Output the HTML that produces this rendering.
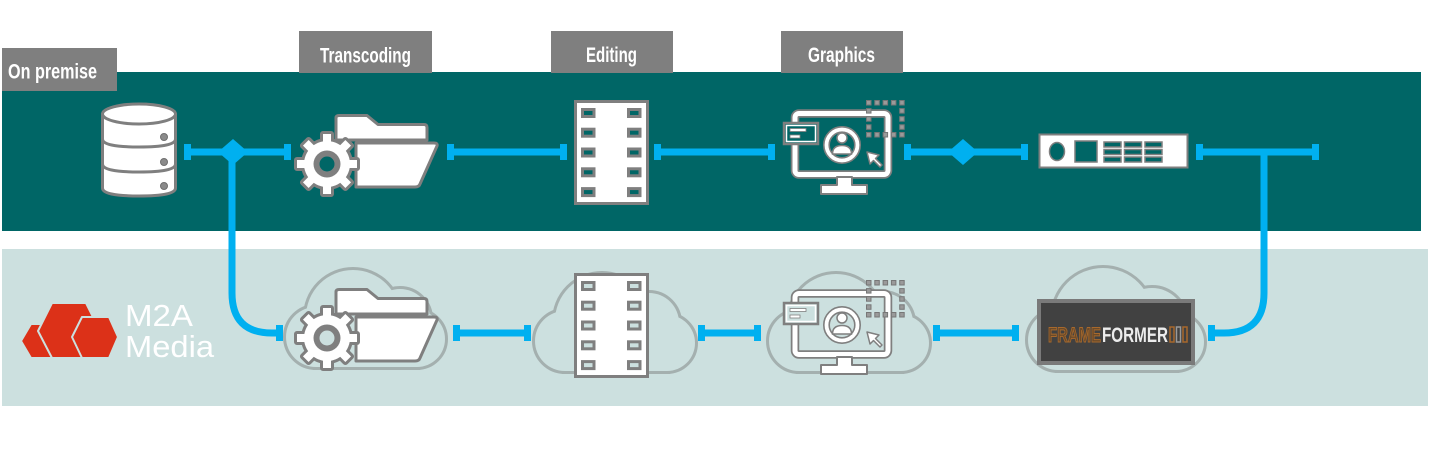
<!DOCTYPE html>
<html><head><meta charset="utf-8"><style>
html,body{margin:0;padding:0;background:#fff;}
svg{display:block;}
text{font-family:"Liberation Sans",sans-serif;}
</style></head><body>
<svg width="1430" height="456" viewBox="0 0 1430 456" xmlns="http://www.w3.org/2000/svg">
<defs>
  <g id="gf">
    <path d="M336,140 V118 Q336,115.5 339,115.5 H367 L378,124.5 H424 Q427,124.5 427,127.5 V140 Z" fill="#fff" stroke="#7f7f7f" stroke-width="3" stroke-linejoin="round"/>
    <path d="M356,143 H434 Q438,143 437,146 L420,184 Q419,187 415,187 H356 Z" fill="#fff" stroke="#7f7f7f" stroke-width="3" stroke-linejoin="round"/>
    <g fill="#7f7f7f" stroke="#7f7f7f" stroke-width="6" stroke-linejoin="round">
      <circle cx="327" cy="164" r="23"/>
      <rect x="323" y="134" width="8" height="12"/>
      <rect x="323" y="134" width="8" height="12" transform="rotate(45 327 164)"/>
      <rect x="323" y="134" width="8" height="12" transform="rotate(90 327 164)"/>
      <rect x="323" y="134" width="8" height="12" transform="rotate(135 327 164)"/>
      <rect x="323" y="134" width="8" height="12" transform="rotate(180 327 164)"/>
      <rect x="323" y="134" width="8" height="12" transform="rotate(225 327 164)"/>
      <rect x="323" y="134" width="8" height="12" transform="rotate(270 327 164)"/>
      <rect x="323" y="134" width="8" height="12" transform="rotate(315 327 164)"/>
    </g>
    <g fill="#fff">
      <circle cx="327" cy="164" r="23"/>
      <rect x="323" y="134" width="8" height="12"/>
      <rect x="323" y="134" width="8" height="12" transform="rotate(45 327 164)"/>
      <rect x="323" y="134" width="8" height="12" transform="rotate(90 327 164)"/>
      <rect x="323" y="134" width="8" height="12" transform="rotate(135 327 164)"/>
      <rect x="323" y="134" width="8" height="12" transform="rotate(180 327 164)"/>
      <rect x="323" y="134" width="8" height="12" transform="rotate(225 327 164)"/>
      <rect x="323" y="134" width="8" height="12" transform="rotate(270 327 164)"/>
      <rect x="323" y="134" width="8" height="12" transform="rotate(315 327 164)"/>
    </g>
    <circle cx="327" cy="164" r="13.5" fill="#7f7f7f"/>
    <circle cx="327" cy="164" r="7.5"/>
  </g>
  <g id="film">
    <rect x="575.5" y="101.5" width="72" height="102" fill="#fff" stroke="#7f7f7f" stroke-width="3"/>
    <g stroke="#7f7f7f" stroke-width="3">
      <rect x="582.5" y="109.5" width="11.5" height="7"/><rect x="628.5" y="109.5" width="11.5" height="7"/>
      <rect x="582.5" y="129.2" width="11.5" height="7"/><rect x="628.5" y="129.2" width="11.5" height="7"/>
      <rect x="582.5" y="149" width="11.5" height="7"/><rect x="628.5" y="149" width="11.5" height="7"/>
      <rect x="582.5" y="168.8" width="11.5" height="7"/><rect x="628.5" y="168.8" width="11.5" height="7"/>
      <rect x="582.5" y="188.6" width="11.5" height="7"/><rect x="628.5" y="188.6" width="11.5" height="7"/>
    </g>
  </g>
  <g id="mon">
    <rect x="795" y="113.5" width="93" height="61" rx="4" fill="none" stroke="#7f7f7f" stroke-width="8.5"/>
    <rect x="795" y="113.5" width="93" height="61" rx="4" fill="none" stroke="#fff" stroke-width="5"/>
    <path d="M837,177 V185 H821 V194 H867 V185 H852 V177 Z" fill="#fff" stroke="#7f7f7f" stroke-width="2" stroke-linejoin="round"/>
    <rect x="784" y="123" width="34" height="21" stroke="#7f7f7f" stroke-width="2.5"/>
    <rect x="786.5" y="125.5" width="29" height="16" fill="none" stroke="#fff" stroke-width="1.5"/>
    <rect x="790" y="128.5" width="16" height="3" fill="#fff" stroke="#7f7f7f" stroke-width="0.8"/>
    <rect x="790" y="135" width="10" height="3" fill="#fff" stroke="#7f7f7f" stroke-width="0.8"/>
    <circle cx="842" cy="145" r="15.5" fill="none" stroke="#7f7f7f" stroke-width="7"/>
    <circle cx="842" cy="145" r="15.5" fill="none" stroke="#fff" stroke-width="3.8"/>
    <circle cx="842" cy="138" r="5" fill="#fff" stroke="#7f7f7f" stroke-width="1.5"/>
    <path d="M832.5,154 Q832.5,145.5 842,145.5 Q851.5,145.5 851.5,154 Z" fill="#fff" stroke="#7f7f7f" stroke-width="1.5"/>
    <polygon points="867,152 879,155 875.5,158.5 882,165 880,167 873.5,160.5 870,164" fill="#fff" stroke="#7f7f7f" stroke-width="1.5" stroke-linejoin="round"/>
    <g fill="#9a9a9a" stroke="#777" stroke-width="1">
      <rect x="866.5" y="100.5" width="4.5" height="4.5"/><rect x="874.8" y="100.5" width="4.5" height="4.5"/><rect x="883.1" y="100.5" width="4.5" height="4.5"/><rect x="891.4" y="100.5" width="4.5" height="4.5"/><rect x="899.7" y="100.5" width="4.5" height="4.5"/>
      <rect x="866.5" y="108.6" width="4.5" height="4.5"/><rect x="899.7" y="108.6" width="4.5" height="4.5"/>
      <rect x="866.5" y="116.7" width="4.5" height="4.5"/><rect x="899.7" y="116.7" width="4.5" height="4.5"/>
      <rect x="866.5" y="124.8" width="4.5" height="4.5"/><rect x="899.7" y="124.8" width="4.5" height="4.5"/>
      <rect x="866.5" y="132.5" width="4.5" height="4.5"/><rect x="874.8" y="132.5" width="4.5" height="4.5"/><rect x="883.1" y="132.5" width="4.5" height="4.5"/><rect x="891.4" y="132.5" width="4.5" height="4.5"/><rect x="899.7" y="132.5" width="4.5" height="4.5"/>
    </g>
  </g>
</defs>

<!-- bands -->
<rect x="2" y="72" width="1419" height="159" fill="#006666"/>
<rect x="2" y="249" width="1426" height="157" fill="#cce0df"/>

<!-- labels -->
<rect x="2" y="48" width="115" height="43" fill="#7f7f7f"/>
<text x="8" y="78.5" font-size="21" font-weight="bold" fill="#fff" textLength="89" lengthAdjust="spacingAndGlyphs">On premise</text>
<rect x="299" y="31" width="133" height="42" fill="#7f7f7f"/>
<text x="320" y="62.5" font-size="21" font-weight="bold" fill="#fff" textLength="91" lengthAdjust="spacingAndGlyphs">Transcoding</text>
<rect x="551" y="31" width="122" height="42" fill="#7f7f7f"/>
<text x="586" y="62" font-size="21" font-weight="bold" fill="#fff" textLength="51" lengthAdjust="spacingAndGlyphs">Editing</text>
<rect x="781" y="31" width="122" height="42" fill="#7f7f7f"/>
<text x="808" y="62" font-size="21" font-weight="bold" fill="#fff" textLength="67" lengthAdjust="spacingAndGlyphs">Graphics</text>

<!-- clouds -->
<g fill="#a4b0af" stroke="#a4b0af" stroke-width="6">
  <circle cx="316" cy="337" r="30"/><circle cx="353" cy="317" r="47"/><circle cx="400" cy="319" r="30"/><circle cx="417" cy="339" r="28"/><rect x="316" y="327" width="101" height="40"/>
  <circle cx="565" cy="341" r="30"/><circle cx="602" cy="321" r="47"/><circle cx="649" cy="323" r="30"/><circle cx="667" cy="343" r="28"/><rect x="565" y="331" width="102" height="40"/>
  <circle cx="799" cy="341" r="30"/><circle cx="836" cy="321" r="47"/><circle cx="883" cy="323" r="30"/><circle cx="901" cy="343" r="28"/><rect x="799" y="331" width="102" height="40"/>
  <circle cx="1058" cy="340" r="30"/><circle cx="1103" cy="318" r="50"/><circle cx="1152" cy="322" r="34"/><circle cx="1176" cy="342" r="28"/><rect x="1058" y="330" width="118" height="40"/>
</g>
<g fill="#cce0df">
  <circle cx="316" cy="337" r="30"/><circle cx="353" cy="317" r="47"/><circle cx="400" cy="319" r="30"/><circle cx="417" cy="339" r="28"/><rect x="316" y="327" width="101" height="40"/>
  <circle cx="565" cy="341" r="30"/><circle cx="602" cy="321" r="47"/><circle cx="649" cy="323" r="30"/><circle cx="667" cy="343" r="28"/><rect x="565" y="331" width="102" height="40"/>
  <circle cx="799" cy="341" r="30"/><circle cx="836" cy="321" r="47"/><circle cx="883" cy="323" r="30"/><circle cx="901" cy="343" r="28"/><rect x="799" y="331" width="102" height="40"/>
  <circle cx="1058" cy="340" r="30"/><circle cx="1103" cy="318" r="50"/><circle cx="1152" cy="322" r="34"/><circle cx="1176" cy="342" r="28"/><rect x="1058" y="330" width="118" height="40"/>
</g>

<!-- connectors -->
<g stroke="#00b0f0" stroke-width="7" fill="none">
  <path d="M187,152 H288"/>
  <path d="M450,152 H564"/>
  <path d="M657,152 H772"/>
  <path d="M907,152 H1025"/>
  <path d="M1199,152 H1316"/>
  <path d="M232,152 V293 Q232,333 272,333 H280"/>
  <path d="M1264,152 V293 Q1264,333 1224,333 H1211"/>
  <path d="M456,333 H528"/>
  <path d="M701,333 H758"/>
  <path d="M936,333 H1016"/>
</g>
<g fill="#00b0f0">
  <rect x="184" y="144" width="7" height="16"/><rect x="284" y="144" width="7" height="16"/>
  <rect x="447" y="144" width="7" height="16"/><rect x="560" y="144" width="7" height="16"/>
  <rect x="654" y="144" width="7" height="16"/><rect x="768" y="144" width="7" height="16"/>
  <rect x="904" y="144" width="7" height="16"/><rect x="1021" y="144" width="7" height="16"/>
  <rect x="1196" y="144" width="7" height="16"/><rect x="1312" y="144" width="7" height="16"/>
  <polygon points="218,152 233,139 248,152 233,165"/>
  <polygon points="948,152 963,139 978,152 963,165"/>
  <rect x="276" y="325" width="7" height="16"/>
  <rect x="1208" y="325" width="7" height="16"/>
  <rect x="453" y="325" width="7" height="16"/><rect x="524" y="325" width="7" height="16"/>
  <rect x="698" y="325" width="7" height="16"/><rect x="754" y="325" width="7" height="16"/>
  <rect x="933" y="325" width="7" height="16"/><rect x="1012" y="325" width="7" height="16"/>
</g>

<!-- database -->
<g fill="#fff" stroke="#7f7f7f" stroke-width="3" stroke-linejoin="round">
  <path d="M102.5,165 V188 Q102.5,196 139,196 Q175.5,196 175.5,188 V165 Z"/>
  <path d="M102.5,140 V164 Q102.5,172 139,172 Q175.5,172 175.5,164 V140 Z"/>
  <path d="M102.5,114 V139 Q102.5,147 139,147 Q175.5,147 175.5,139 V114 Z"/>
  <ellipse cx="139" cy="114" rx="36.5" ry="10"/>
</g>
<g fill="#8a8a8a" stroke="#6f6f6f" stroke-width="1">
  <circle cx="164" cy="137" r="3.5"/><circle cx="164" cy="162" r="3.5"/><circle cx="164" cy="186" r="3.5"/>
</g>

<!-- icons -->
<use href="#gf" fill="#006666"/>
<use href="#gf" y="174" fill="#cce0df"/>
<use href="#film" fill="#006666"/>
<use href="#film" y="173" fill="#cce0df"/>
<use href="#mon" fill="#006666"/>
<use href="#mon" y="180" fill="#cce0df"/>

<!-- device box -->
<rect x="1039.5" y="134.5" width="148" height="33" fill="#fff" stroke="#7f7f7f" stroke-width="2"/>
<g fill="#006666" stroke="#7f7f7f" stroke-width="1.5">
  <ellipse cx="1057" cy="151.5" rx="7.5" ry="9"/>
  <rect x="1075" y="141" width="22" height="21"/>
  <rect x="1104" y="142" width="17" height="5"/><rect x="1124.5" y="142" width="17" height="5"/><rect x="1145" y="142" width="17" height="5"/>
  <rect x="1104" y="149.5" width="17" height="5"/><rect x="1124.5" y="149.5" width="17" height="5"/><rect x="1145" y="149.5" width="17" height="5"/>
  <rect x="1104" y="157" width="17" height="5"/><rect x="1124.5" y="157" width="17" height="5"/><rect x="1145" y="157" width="17" height="5"/>
</g>

<!-- frameformer -->
<rect x="1039" y="301" width="154" height="62" fill="#414141" stroke="#7a7a7a" stroke-width="4"/>
<text x="1048" y="342" font-size="21" font-weight="bold" fill="#6a4a2a" stroke="#a8692c" stroke-width="1" textLength="53" lengthAdjust="spacingAndGlyphs">FRAME</text>
<text x="1102" y="342" font-size="21" font-weight="bold" fill="#ececec" textLength="66" lengthAdjust="spacingAndGlyphs">FORMER</text>
<rect x="1170" y="327" width="4" height="15" fill="none" stroke="#a8692c" stroke-width="1.5"/>
<rect x="1176.5" y="327" width="4" height="15" fill="none" stroke="#9a9a9a" stroke-width="1.5"/>
<rect x="1183" y="327" width="4" height="15" fill="none" stroke="#a8692c" stroke-width="1.5"/>

<!-- M2A logo -->
<g fill="#dc3118" stroke="#cce0df" stroke-width="2" stroke-linejoin="round">
  <polygon points="21,341 31,324 52,324 62,341 52,358 31,358"/>
  <polygon points="38,331 52,303 86,303 100,331 86,358 52,358"/>
  <polygon points="72,337 82,317 109,317 118,337 109,358 82,358"/>
</g>
<text x="125" y="326" font-size="31" fill="#fff" textLength="68" lengthAdjust="spacingAndGlyphs">M2A</text>
<text x="125" y="357" font-size="31" fill="#fff" textLength="89" lengthAdjust="spacingAndGlyphs">Media</text>
</svg>
</body></html>
